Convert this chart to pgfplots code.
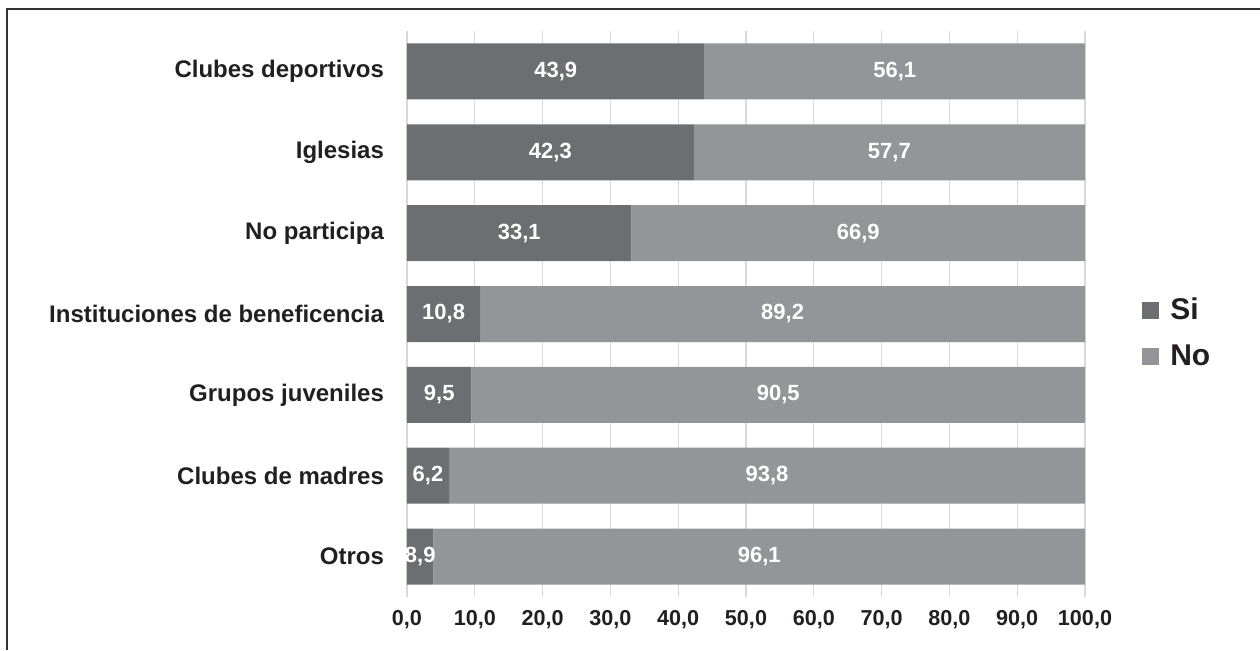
\documentclass[border=0pt]{standalone}
\usepackage{pgfplots}
\pgfplotsset{compat=1.18}
\usepackage{pgfplotstable}
\usepackage{fontspec}
\setmainfont{Liberation Sans}
\definecolor{si}{HTML}{6D6E71}
\definecolor{no}{HTML}{939598}
\definecolor{txt}{HTML}{231F20}
\definecolor{gridc}{HTML}{D9D9D9}
\pgfplotstableread{
y si no silab nolab
0 3.9 96.1 8,9 96,1
1 6.2 93.8 6,2 93,8
2 9.5 90.5 9,5 90,5
3 10.8 89.2 10,8 89,2
4 33.1 66.9 33,1 66,9
5 42.3 57.7 42,3 57,7
6 43.9 56.1 43,9 56,1
}\datatable
\pgfplotsset{
  frame/.style={at={(203.5pt,26.5pt)}, anchor=south west,
    scale only axis, width=339pt, height=283pt,
    xmin=0, xmax=100, ymin=-0.5, ymax=6.5,
    enlarge x limits=false, enlarge y limits=false},
  lab/.style={only marks, mark=none, point meta=explicit symbolic,
    nodes near coords, nodes near coords align=center,
    nodes near coords style={anchor=center, text=white, font=\fontsize{11pt}{13pt}\selectfont\bfseries}},
}
\begin{document}
\begin{tikzpicture}
\path[use as bounding box] (0,0) rectangle (630pt,325pt);
\draw[line width=1pt, color=black!80] (3.5pt,0) -- (3.5pt,320.5pt) -- (630pt,320.5pt);
\begin{axis}[
  frame,
  xbar stacked, bar width=28pt,
  axis line style={draw=none},
  tick style={draw=none},
  xmajorgrids, major grid style={color=gridc, line width=0.6pt},
  xtick={0,10,...,100},
  ytick={0,...,6},
  yticklabels={Otros, Clubes de madres, Grupos juveniles, Instituciones de beneficencia, No participa, Iglesias, Clubes deportivos},
  yticklabel style={font=\fontsize{12pt}{14pt}\selectfont\bfseries, text=txt, xshift=-8pt},
  xticklabel style={font=\fontsize{10.8pt}{13pt}\selectfont\bfseries, text=txt, yshift=-3pt, /pgf/number format/.cd, fixed, fixed zerofill, precision=1, use comma, assume math mode=true},
  legend style={at={(1.075,0.466)}, anchor=west, draw=none, font=\fontsize{15pt}{18pt}\selectfont\bfseries, text=txt, row sep=7pt, /tikz/every odd column/.append style={column sep=3.5pt}},
  legend image code/.code={\fill[#1] (0pt,-4.25pt) rectangle (8.5pt,4.25pt);},
  legend cell align=left,
]
\addplot[fill=si, draw=none] table[x=si, y=y] {\datatable};
\addlegendentry{Si}
\addplot[fill=no, draw=none] table[x=no, y=y] {\datatable};
\addlegendentry{No}
\end{axis}
\begin{axis}[frame, hide axis]
\addplot[lab] table[x expr=\thisrow{si}/2, y=y, meta=silab] {\datatable};
\addplot[lab] table[x expr=\thisrow{si}+\thisrow{no}/2, y=y, meta=nolab] {\datatable};
\end{axis}
\end{tikzpicture}
\end{document}
